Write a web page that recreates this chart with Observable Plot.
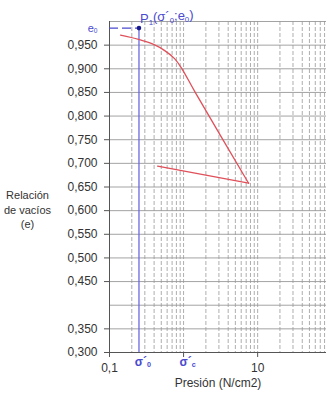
<!DOCTYPE html>
<html><head><meta charset="utf-8">
<script src="https://cdn.jsdelivr.net/npm/d3@7"></script>
<script src="https://cdn.jsdelivr.net/npm/@observablehq/plot@0.6"></script>
<style>body{margin:0;background:#fff}</style>
</head><body><div id="chart"></div>
<script>
// Loading branch of the curve (pressure N/cm2, void ratio e)
const loadP = [0.141, 0.247, 0.4, 0.55, 0.75, 0.95, 1.45, 7.55];
const loadE = [0.971, 0.962, 0.951, 0.939, 0.922, 0.9, 0.849, 0.658];
// Unloading branch
const unloadP = [7.55, 0.446];
const unloadE = [0.658, 0.694];
// Initial point P1
const sigma0 = 0.25;
const e0 = 0.986;
const sigmaC = 1.0;
// Axes
const xDomain = [0.1, 85];
const yDomain = [0.3, 1.0];
const yTicks = [0.3, 0.35, 0.45, 0.5, 0.55, 0.6, 0.65, 0.7, 0.75, 0.8, 0.85, 0.9, 0.95];
const yGrid = [0.35, 0.4, 0.45, 0.5, 0.55, 0.6, 0.65, 0.7, 0.75, 0.8, 0.85, 0.9, 0.95, 1.0];
const xTicks = [0.1, 1, 10];
const xTickLabels = ["0,1", "", "10"];
const xGrid = [0.2,0.3,0.4,0.5,0.6,0.7,0.8,0.9,1,2,3,4,5,6,7,8,9,10,20,30,40,50,60,70,80];
const sigmaLabels = [{p: sigma0, t: "σ´_0"}, {p: sigmaC, t: "σ´_c"}];
const title = "P_1(σ´_0;e_0)";
const xLabel = "Presión (N/cm2)";
const yLabel = "Relación\nde vacíos\n(e)";

const loadData = loadP.map((p, i) => ({p, e: loadE[i]}));
const unloadData = unloadP.map((p, i) => ({p, e: unloadE[i]}));
const blue = "#4a4ad0";

const svg = Plot.plot({
  width: 326, height: 394,
  marginTop: 21, marginBottom: 42, marginLeft: 109, marginRight: 0,
  style: {fontFamily: "Liberation Sans, Arial, sans-serif", fontSize: "12px", color: "#333", background: "#fff", overflow: "visible"},
  x: {type: "log", domain: xDomain},
  y: {domain: yDomain},
  marks: [
    Plot.ruleX(xGrid, {stroke: "#999", strokeDasharray: "4,2", strokeWidth: 0.8}),
    Plot.ruleY(yGrid, {stroke: "#999", strokeWidth: 0.9}),
    Plot.ruleX([xDomain[0]], {stroke: "#555", strokeWidth: 1}),
    Plot.ruleY([yDomain[0]], {stroke: "#555", strokeWidth: 1}),
    Plot.axisY({ticks: yTicks, tickFormat: d => d.toFixed(3).replace(".", ","), tickSize: 5, tickPadding: 7, label: null, stroke: "#555"}),
    Plot.axisX({ticks: xTicks, tickFormat: d => xTickLabels[xTicks.findIndex(t => Math.abs(t - d) < 1e-9)] ?? "", tickSize: 5, tickPadding: 6, label: null, stroke: "#555"}),
    // P1 guides
    Plot.ruleX([sigma0], {y1: yDomain[0], y2: e0, stroke: "#6a6ae0", strokeWidth: 1.3}),
    Plot.ruleY([e0], {x1: xDomain[0], x2: sigma0, stroke: blue, strokeWidth: 1.2, strokeDasharray: "9,4"}),
    Plot.dot([{p: sigma0, e: e0}], {x: "p", y: "e", r: 2.3, fill: "#1a1a90", stroke: "none"}),
    // curve
    Plot.line(loadData, {x: "p", y: "e", stroke: "#e0505a", strokeWidth: 1.3, curve: "catmull-rom"}),
    Plot.line(unloadData, {x: "p", y: "e", stroke: "#e0505a", strokeWidth: 1.3}),
    // labels
    Plot.text([e0], {y: d => d, frameAnchor: "left", dx: -12, textAnchor: "end", text: () => "e_0", fill: blue, fontSize: 11}),
    Plot.text(sigmaLabels, {x: "p", text: "t", frameAnchor: "bottom", dy: 13, dx: 4, fill: blue, fontSize: 12, fontWeight: "bold"}),
    Plot.text([title], {x: () => sigma0, text: d => d, frameAnchor: "top", dy: -8, textAnchor: "start", dx: 1, fill: blue, fontSize: 13}),
    Plot.text([xLabel], {text: d => d, frameAnchor: "bottom", dy: 34, fontSize: 12, fill: "#333"}),
    Plot.text([yLabel], {text: d => d, frameAnchor: "left", dx: -82, dy: 22, textAnchor: "middle", fontSize: 11, fill: "#333", lineHeight: 1.3})
  ]
});
// turn "_x" into subscripts
d3.select(svg).selectAll("text").each(function() {
  const el = d3.select(this);
  if (!el.selectAll("tspan").empty()) return;
  const s = el.text();
  if (!s.includes("_")) return;
  el.text("");
  const parts = s.split(/(_.)/);
  let shifted = false;
  for (const part of parts) {
    if (!part) continue;
    if (part[0] === "_") {
      el.append("tspan").attr("dy", "0.25em").attr("font-size", "0.6em").text(part[1]);
      shifted = true;
    } else {
      el.append("tspan").attr("dy", shifted ? "-0.25em" : null).text(part);
      shifted = false;
    }
  }
});
document.getElementById("chart").append(svg);
</script>
</body></html>
